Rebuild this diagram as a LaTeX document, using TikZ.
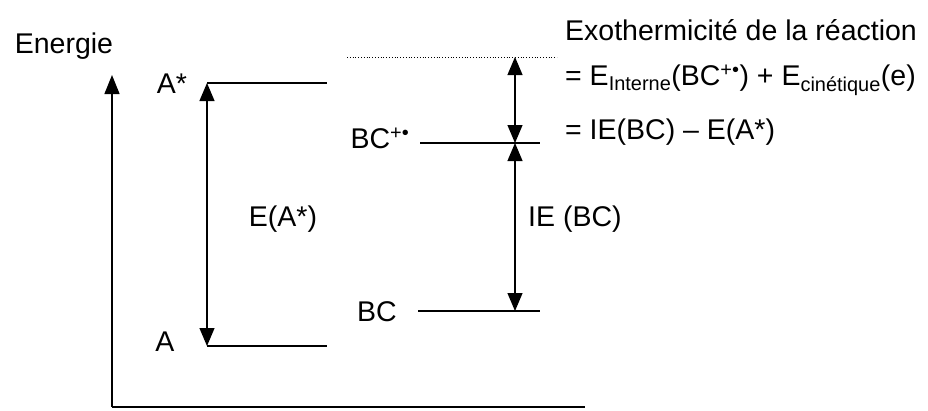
\documentclass[tikz,border=0pt]{standalone}
\usepackage{fontspec}
\setmainfont{Liberation Sans}
\usetikzlibrary{arrows.meta}
\begin{document}
\begin{tikzpicture}[x=1pt,y=-1pt,
  lvl/.style={line width=1.3pt},
  dbl/.style={line width=1.1pt,{Triangle[length=18pt,width=15pt]}-{Triangle[length=18pt,width=15pt]}},
  axis/.style={line width=1.3pt},
  lab/.style={inner sep=0pt,font=\fontsize{28.5}{32}\selectfont}]
\useasboundingbox (0,0) rectangle (928,410);
% axes
\coordinate (O) at (112,407);
\coordinate (Ytop) at (112,75);
\coordinate (Xend) at (585,407);
\draw[axis,-{Triangle[length=19pt,width=15pt]}] (O) -- (Ytop);
\draw[axis] (O) -- (Xend);
\node[lab] (energie) at (64,46) {Energie};
% A levels
\coordinate (As1) at (207,83); \coordinate (As2) at (327,83);
\coordinate (A1) at (207,346); \coordinate (A2) at (327,346);
\draw[lvl] (As1) -- (As2);
\draw[lvl] (A1) -- (A2);
\draw[dbl] (As1) -- (A1);
\node[lab] (lAs) at (172,84) {A*};
\node[lab] (lA) at (165,342) {A};
\node[lab] (lEA) at (283,219) {E(A*)};
% BC levels
\coordinate (D1) at (347,57); \coordinate (D2) at (557,57);
\draw[line width=0.8pt,dotted] (D1) -- (D2);
\coordinate (Dm) at (515,57);
\coordinate (P1) at (420,143); \coordinate (P2) at (540,143);
\coordinate (Pm) at (515,143);
\coordinate (B1) at (418,311); \coordinate (B2) at (540,311);
\coordinate (Bm) at (515,311);
\draw[lvl] (P1) -- (P2);
\draw[lvl] (B1) -- (B2);
\draw[dbl] (Dm) -- (Pm);
\draw[dbl] (Pm) -- (Bm);
\node[lab] (lP) at (380,138) {BC\textsuperscript{+\textbullet}};
\node[lab] (lB) at (377,312) {BC};
\node[lab,anchor=west] (lIE) at (528,219) {IE (BC)};
% right texts
\node[lab,anchor=west] (t1) at (565,30) {Exothermicité de la réaction};
\node[lab,anchor=west] (t2) at (565,80) {= E\textsubscript{Interne}(BC\textsuperscript{+\textbullet}) + E\textsubscript{cinétique}(e)};
\node[lab,anchor=west] (t3) at (565,132) {= IE(BC) – E(A*)};
\end{tikzpicture}
\end{document}
